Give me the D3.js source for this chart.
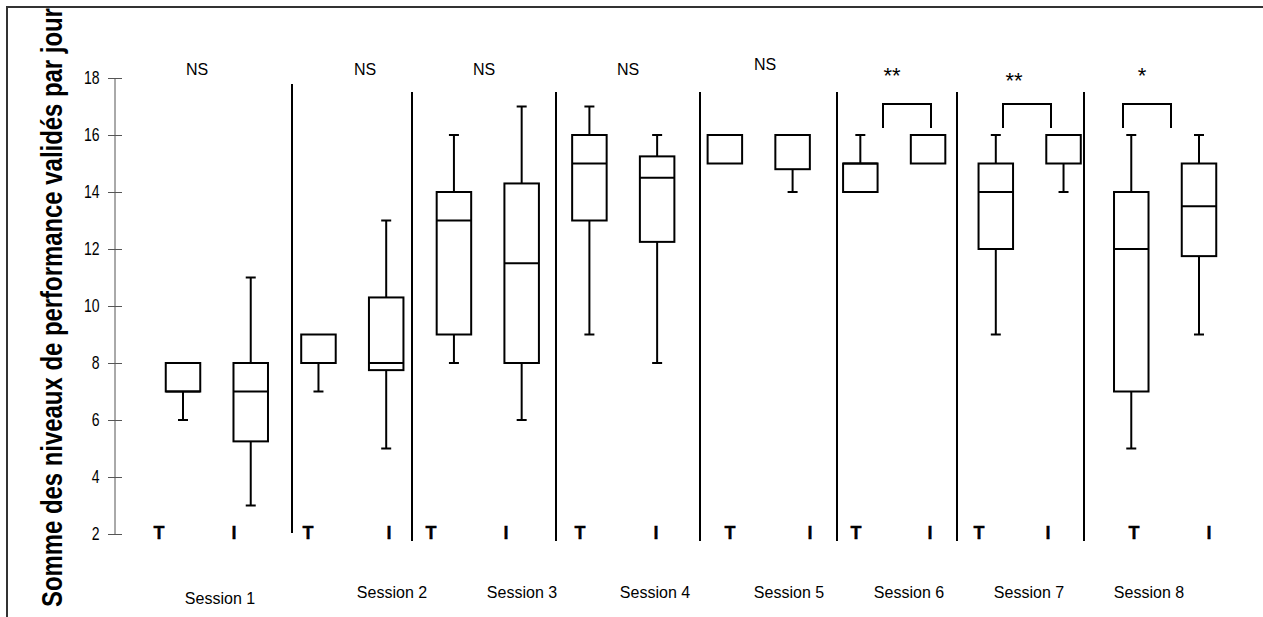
<!DOCTYPE html>
<html>
<head>
<meta charset="utf-8">
<script src="https://cdn.jsdelivr.net/npm/d3@7"></script>
<style>
  html, body { margin: 0; padding: 0; background: #fff; }
  svg { display: block; }
  text { font-family: Arial, "Liberation Sans", sans-serif; fill: #000; }
</style>
</head>
<body>
<svg id="chart" width="1263" height="617"></svg>
<script>
// Sessions and the two groups compared in each
const sessions = ["Session 1", "Session 2", "Session 3", "Session 4",
                  "Session 5", "Session 6", "Session 7", "Session 8"];
const groups = ["T", "I"];

// Box statistics, one entry per box, in order S1-T, S1-I, S2-T, S2-I, ...
const whiskerHigh = [8, 11, 9, 13, 16, 17, 17, 16, 16, 16, 16, 16, 16, 16, 16, 16];
const q3          = [8, 8, 9, 10.3, 14, 14.3, 16, 15.25, 16, 16, 15, 16, 15, 16, 14, 15];
const median      = [7, 7, 8, 8, 13, 11.5, 15, 14.5, 16, 16, 15, 16, 14, 16, 12, 13.5];
const q1          = [7, 5.25, 8, 7.75, 9, 8, 13, 12.25, 15, 14.8, 14, 15, 12, 15, 7, 11.75];
const whiskerLow  = [6, 3, 7, 5, 8, 6, 9, 8, 15, 14, 14, 15, 9, 14, 5, 9];

// Test result per session
const significance = ["NS", "NS", "NS", "NS", "NS", "**", "**", "*"];
const bracketed    = [false, false, false, false, false, true, true, true];

// Y axis ticks
const yTicks = [2, 4, 6, 8, 10, 12, 14, 16, 18];
const yTitle = "Somme des niveaux de performance validés par jour";

// ---- layout ----
const svg = d3.select("#chart");
const boxW = 34.5;
const capW = 10;

const boxes = sessions.flatMap((s, si) => groups.map((g, gi) => {
  const i = si * 2 + gi;
  return { key: s + "|" + g, session: si, group: g,
           hi: whiskerHigh[i], q3: q3[i], med: median[i], q1: q1[i], lo: whiskerLow[i] };
}));

const x = d3.scalePoint().domain(boxes.map(b => b.key)).range([183, 1199]);
const y = d3.scaleLinear().domain([2, 18]).range([534, 78]);

// hand-placed annotation positions
const dividerX = [292, 412, 556, 700, 837, 957, 1084];
const groupLabelX = [[159, 234], [308, 389], [431, 506], [580, 656],
                     [730, 810], [856, 930], [979, 1048], [1134, 1209]];
const sessionLabelX = [220, 392, 522, 655, 789, 909, 1029, 1149];
const sigLabelX = [197, 365, 484, 628, 765, 892, 1014, 1142];
const sigLabelY = [75, 75, 75, 75, 70, 83, 88, 83];
const bracketX = [null, null, null, null, null, [883, 931], [1003, 1051], [1123, 1171]];

// outer frame (top and left edges visible)
svg.append("path")
  .attr("d", "M7,1400 L7,7 L1400,7")
  .attr("fill", "none").attr("stroke", "#333").attr("stroke-width", 2);

// rotated Y title, clipped at the frame
svg.append("clipPath").attr("id", "frameClip")
  .append("rect").attr("x", 8).attr("y", 8).attr("width", 1300).attr("height", 700);
svg.append("g").attr("clip-path", "url(#frameClip)")
  .append("text")
  .attr("transform", "translate(62,607) rotate(-90) scale(1,1.25)")
  .attr("font-size", 23.9).attr("font-weight", "bold")
  .text(yTitle);

// Y axis: line and ticks from the axis generator, narrow labels drawn alongside
const yAxis = d3.axisLeft(y).tickValues(yTicks).tickSize(7).tickFormat("");
const ax = svg.append("g").attr("transform", "translate(115,0)").call(yAxis);
ax.select(".domain").attr("d", `M0,${y(2)}V${y(18)}`).attr("stroke", "#555");
ax.selectAll(".tick line").attr("x1", -7).attr("x2", 7).attr("stroke", "#555");
svg.append("g").selectAll("text").data(yTicks).join("text")
  .attr("transform", d => `translate(99.5,${y(d)}) scale(0.78,1)`)
  .attr("text-anchor", "end").attr("dy", "0.36em")
  .attr("font-size", 18)
  .text(d3.format("d"));

// session dividers
svg.append("g").selectAll("line").data(dividerX).join("line")
  .attr("x1", d => d).attr("x2", d => d)
  .attr("y1", (d, i) => i === 0 ? 84 : 92)
  .attr("y2", (d, i) => i === 0 ? 533 : 541)
  .attr("stroke", "#000").attr("stroke-width", 2);

// box plots
const g = svg.append("g").attr("stroke", "#000").attr("stroke-width", 2).attr("fill", "none");
boxes.forEach(b => {
  const cx = x(b.key);
  if (b.hi > b.q3) {
    g.append("line").attr("x1", cx).attr("x2", cx).attr("y1", y(b.q3)).attr("y2", y(b.hi));
    g.append("line").attr("x1", cx - capW / 2).attr("x2", cx + capW / 2).attr("y1", y(b.hi)).attr("y2", y(b.hi));
  }
  if (b.lo < b.q1) {
    g.append("line").attr("x1", cx).attr("x2", cx).attr("y1", y(b.q1)).attr("y2", y(b.lo));
    g.append("line").attr("x1", cx - capW / 2).attr("x2", cx + capW / 2).attr("y1", y(b.lo)).attr("y2", y(b.lo));
  }
  g.append("rect").attr("x", cx - boxW / 2).attr("width", boxW)
    .attr("y", y(b.q3)).attr("height", y(b.q1) - y(b.q3)).attr("fill", "#fff");
  g.append("line").attr("x1", cx - boxW / 2).attr("x2", cx + boxW / 2)
    .attr("y1", y(b.med)).attr("y2", y(b.med));
});

// group letters, session names and test results
sessions.forEach((s, si) => {
  groups.forEach((gr, gi) => {
    svg.append("text")
      .attr("x", groupLabelX[si][gi]).attr("y", 539)
      .attr("text-anchor", "middle")
      .attr("font-family", "'Liberation Serif', 'Times New Roman', serif")
      .attr("font-weight", "bold").attr("font-size", 18)
      .attr("stroke", "#000").attr("stroke-width", 0.4)
      .text(gr);
  });
  svg.append("text")
    .attr("x", sessionLabelX[si]).attr("y", si === 0 ? 604 : 598)
    .attr("text-anchor", "middle").attr("font-size", 16)
    .text(s);
  const isStar = significance[si] !== "NS";
  svg.append("text")
    .attr("x", sigLabelX[si]).attr("y", sigLabelY[si])
    .attr("text-anchor", "middle").attr("font-size", isStar ? 22 : 16)
    .text(significance[si]);
  if (bracketed[si]) {
    const [bx0, bx1] = bracketX[si];
    svg.append("path")
      .attr("d", `M${bx0},128V104H${bx1}V128`)
      .attr("fill", "none").attr("stroke", "#000").attr("stroke-width", 2);
  }
});
</script>
</body>
</html>
